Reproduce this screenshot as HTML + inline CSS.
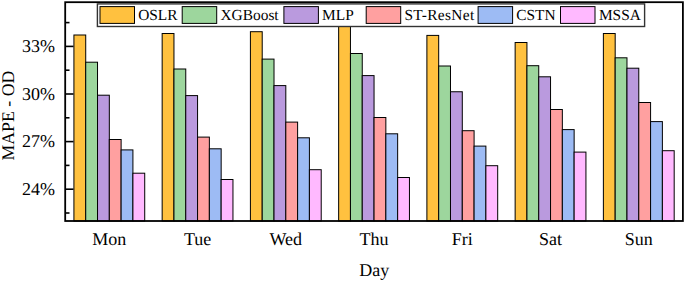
<!DOCTYPE html><html><head><meta charset="utf-8"><style>html,body{margin:0;padding:0;background:#fff;}svg{display:block;}text{font-family:"Liberation Serif",serif;fill:#000;text-rendering:geometricPrecision;}</style></head><body>
<svg width="685" height="281" viewBox="0 0 685 281">
<rect x="0" y="0" width="685" height="281" fill="#fff"/>
<rect x="73.92" y="35.00" width="11.80" height="186.00" fill="#FFC13F" stroke="#000" stroke-width="1"/>
<rect x="85.72" y="62.20" width="11.80" height="158.80" fill="#9DD69D" stroke="#000" stroke-width="1"/>
<rect x="97.52" y="95.20" width="11.80" height="125.80" fill="#BA9ADE" stroke="#000" stroke-width="1"/>
<rect x="109.32" y="139.50" width="11.80" height="81.50" fill="#FFA0A0" stroke="#000" stroke-width="1"/>
<rect x="121.12" y="149.90" width="11.80" height="71.10" fill="#9DBBF4" stroke="#000" stroke-width="1"/>
<rect x="132.92" y="173.20" width="11.80" height="47.80" fill="#FFB9FF" stroke="#000" stroke-width="1"/>
<text x="109.32" y="245" font-size="18" text-anchor="middle">Mon</text>
<rect x="162.16" y="33.50" width="11.80" height="187.50" fill="#FFC13F" stroke="#000" stroke-width="1"/>
<rect x="173.96" y="69.00" width="11.80" height="152.00" fill="#9DD69D" stroke="#000" stroke-width="1"/>
<rect x="185.76" y="95.60" width="11.80" height="125.40" fill="#BA9ADE" stroke="#000" stroke-width="1"/>
<rect x="197.56" y="137.10" width="11.80" height="83.90" fill="#FFA0A0" stroke="#000" stroke-width="1"/>
<rect x="209.36" y="148.80" width="11.80" height="72.20" fill="#9DBBF4" stroke="#000" stroke-width="1"/>
<rect x="221.16" y="179.50" width="11.80" height="41.50" fill="#FFB9FF" stroke="#000" stroke-width="1"/>
<text x="197.56" y="245" font-size="18" text-anchor="middle">Tue</text>
<rect x="250.41" y="31.70" width="11.80" height="189.30" fill="#FFC13F" stroke="#000" stroke-width="1"/>
<rect x="262.21" y="59.10" width="11.80" height="161.90" fill="#9DD69D" stroke="#000" stroke-width="1"/>
<rect x="274.01" y="85.60" width="11.80" height="135.40" fill="#BA9ADE" stroke="#000" stroke-width="1"/>
<rect x="285.81" y="122.10" width="11.80" height="98.90" fill="#FFA0A0" stroke="#000" stroke-width="1"/>
<rect x="297.61" y="137.80" width="11.80" height="83.20" fill="#9DBBF4" stroke="#000" stroke-width="1"/>
<rect x="309.41" y="169.70" width="11.80" height="51.30" fill="#FFB9FF" stroke="#000" stroke-width="1"/>
<text x="285.81" y="245" font-size="18" text-anchor="middle">Wed</text>
<rect x="338.65" y="16.00" width="11.80" height="205.00" fill="#FFC13F" stroke="#000" stroke-width="1"/>
<rect x="350.45" y="53.50" width="11.80" height="167.50" fill="#9DD69D" stroke="#000" stroke-width="1"/>
<rect x="362.25" y="75.60" width="11.80" height="145.40" fill="#BA9ADE" stroke="#000" stroke-width="1"/>
<rect x="374.05" y="117.50" width="11.80" height="103.50" fill="#FFA0A0" stroke="#000" stroke-width="1"/>
<rect x="385.85" y="133.80" width="11.80" height="87.20" fill="#9DBBF4" stroke="#000" stroke-width="1"/>
<rect x="397.65" y="177.50" width="11.80" height="43.50" fill="#FFB9FF" stroke="#000" stroke-width="1"/>
<text x="374.05" y="245" font-size="18" text-anchor="middle">Thu</text>
<rect x="426.89" y="35.40" width="11.80" height="185.60" fill="#FFC13F" stroke="#000" stroke-width="1"/>
<rect x="438.69" y="66.00" width="11.80" height="155.00" fill="#9DD69D" stroke="#000" stroke-width="1"/>
<rect x="450.49" y="91.75" width="11.80" height="129.25" fill="#BA9ADE" stroke="#000" stroke-width="1"/>
<rect x="462.29" y="130.70" width="11.80" height="90.30" fill="#FFA0A0" stroke="#000" stroke-width="1"/>
<rect x="474.09" y="146.10" width="11.80" height="74.90" fill="#9DBBF4" stroke="#000" stroke-width="1"/>
<rect x="485.89" y="165.70" width="11.80" height="55.30" fill="#FFB9FF" stroke="#000" stroke-width="1"/>
<text x="462.29" y="245" font-size="18" text-anchor="middle">Fri</text>
<rect x="515.14" y="42.50" width="11.80" height="178.50" fill="#FFC13F" stroke="#000" stroke-width="1"/>
<rect x="526.94" y="65.70" width="11.80" height="155.30" fill="#9DD69D" stroke="#000" stroke-width="1"/>
<rect x="538.74" y="76.80" width="11.80" height="144.20" fill="#BA9ADE" stroke="#000" stroke-width="1"/>
<rect x="550.54" y="109.50" width="11.80" height="111.50" fill="#FFA0A0" stroke="#000" stroke-width="1"/>
<rect x="562.34" y="129.60" width="11.80" height="91.40" fill="#9DBBF4" stroke="#000" stroke-width="1"/>
<rect x="574.14" y="152.10" width="11.80" height="68.90" fill="#FFB9FF" stroke="#000" stroke-width="1"/>
<text x="550.54" y="245" font-size="18" text-anchor="middle">Sat</text>
<rect x="603.38" y="33.50" width="11.80" height="187.50" fill="#FFC13F" stroke="#000" stroke-width="1"/>
<rect x="615.18" y="57.80" width="11.80" height="163.20" fill="#9DD69D" stroke="#000" stroke-width="1"/>
<rect x="626.98" y="68.20" width="11.80" height="152.80" fill="#BA9ADE" stroke="#000" stroke-width="1"/>
<rect x="638.78" y="102.50" width="11.80" height="118.50" fill="#FFA0A0" stroke="#000" stroke-width="1"/>
<rect x="650.58" y="121.60" width="11.80" height="99.40" fill="#9DBBF4" stroke="#000" stroke-width="1"/>
<rect x="662.38" y="150.70" width="11.80" height="70.30" fill="#FFB9FF" stroke="#000" stroke-width="1"/>
<text x="638.78" y="245" font-size="18" text-anchor="middle">Sun</text>
<line x1="65.2" y1="46.4" x2="73.5" y2="46.4" stroke="#000" stroke-width="1.6"/>
<text x="55.0" y="52.00" font-size="18" text-anchor="end">33%</text>
<line x1="65.2" y1="94.0" x2="73.5" y2="94.0" stroke="#000" stroke-width="1.6"/>
<text x="55.0" y="99.60" font-size="18" text-anchor="end">30%</text>
<line x1="65.2" y1="141.6" x2="73.5" y2="141.6" stroke="#000" stroke-width="1.6"/>
<text x="55.0" y="147.20" font-size="18" text-anchor="end">27%</text>
<line x1="65.2" y1="189.2" x2="73.5" y2="189.2" stroke="#000" stroke-width="1.6"/>
<text x="55.0" y="194.80" font-size="18" text-anchor="end">24%</text>
<line x1="65.2" y1="22.6" x2="69.5" y2="22.6" stroke="#000" stroke-width="1.6"/>
<line x1="65.2" y1="70.2" x2="69.5" y2="70.2" stroke="#000" stroke-width="1.6"/>
<line x1="65.2" y1="117.8" x2="69.5" y2="117.8" stroke="#000" stroke-width="1.6"/>
<line x1="65.2" y1="165.4" x2="69.5" y2="165.4" stroke="#000" stroke-width="1.6"/>
<line x1="65.2" y1="213.0" x2="69.5" y2="213.0" stroke="#000" stroke-width="1.6"/>
<rect x="65.2" y="2.2" width="617.70" height="218.80" fill="none" stroke="#000" stroke-width="1.8"/>
<rect x="97.4" y="3.9" width="547.2" height="22.6" fill="#fff" stroke="#333" stroke-width="1.4"/>
<rect x="100.0" y="6.6" width="34.5" height="16.8" fill="#FFC13F" stroke="#000" stroke-width="1"/>
<text x="138.2" y="20.0" font-size="15.4">OSLR</text>
<rect x="182.2" y="6.6" width="34.5" height="16.8" fill="#9DD69D" stroke="#000" stroke-width="1"/>
<text x="220.5" y="20.0" font-size="15.4">XGBoost</text>
<rect x="283.9" y="6.6" width="34.5" height="16.8" fill="#BA9ADE" stroke="#000" stroke-width="1"/>
<text x="322.1" y="20.0" font-size="15.4">MLP</text>
<rect x="366.2" y="6.6" width="34.5" height="16.8" fill="#FFA0A0" stroke="#000" stroke-width="1"/>
<text x="404.4" y="20.0" font-size="15.4" letter-spacing="0.36">ST-ResNet</text>
<rect x="478.1" y="6.6" width="34.5" height="16.8" fill="#9DBBF4" stroke="#000" stroke-width="1"/>
<text x="516.2" y="20.0" font-size="15.4">CSTN</text>
<rect x="560.5" y="6.6" width="34.5" height="16.8" fill="#FFB9FF" stroke="#000" stroke-width="1"/>
<text x="598.9" y="20.0" font-size="15.4">MSSA</text>
<text x="374.2" y="275.6" font-size="18" text-anchor="middle">Day</text>
<text transform="translate(14.3,115.6) rotate(-90)" x="0" y="0" font-size="17.8" text-anchor="middle">MAPE - OD</text>
</svg></body></html>
